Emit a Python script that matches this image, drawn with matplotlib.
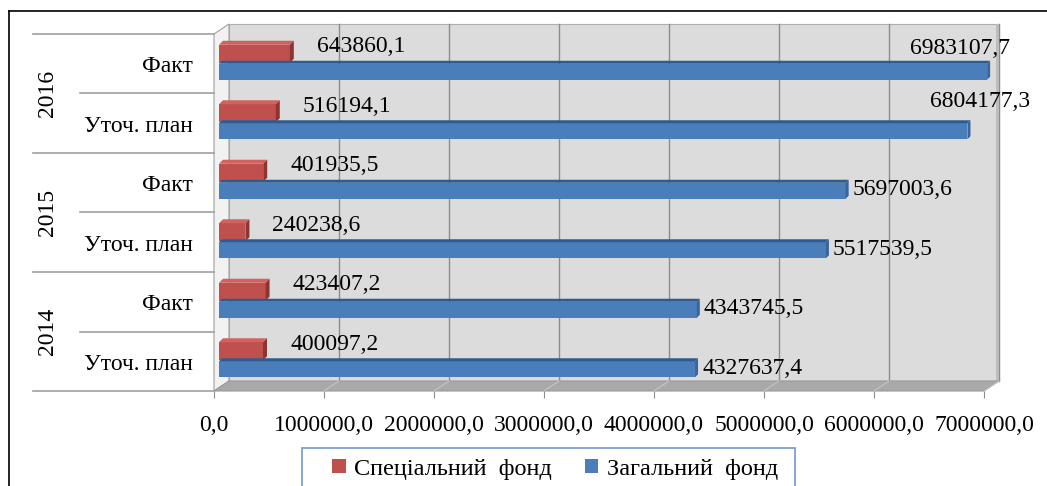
import matplotlib
matplotlib.use("Agg")
import matplotlib.pyplot as plt
from matplotlib.patches import Polygon, Rectangle
from matplotlib.lines import Line2D
from matplotlib.transforms import blended_transform_factory

plt.rcParams["font.family"] = ["Liberation Serif", "DejaVu Serif"]

# data (bottom row first)
years = ["2014", "2015", "2016"]
categories = ["Уточ. план", "Факт", "Уточ. план", "Факт", "Уточ. план", "Факт"]
special_fund = [400097.2, 423407.2, 240238.6, 401935.5, 516194.1, 643860.1]
general_fund = [4327637.4, 4343745.5, 5517539.5, 5697003.6, 6804177.3, 6983107.7]
xticks = [0, 1000000, 2000000, 3000000, 4000000, 5000000, 6000000, 7000000]
series_names = ["Спеціальний  фонд", "Загальний  фонд"]

FS = 17
W, H = 1047, 486
fig = plt.figure(figsize=(W / 100, H / 100), dpi=100)

# axes placed in pixels: x 0..7e6 -> 214..984, rows -> 391..34 (from top)
AX_L, AX_R, AX_T, AX_B = 214, 984, 34, 391
ax = fig.add_axes([AX_L / W, (H - AX_B) / H, (AX_R - AX_L) / W, (AX_B - AX_T) / H])
ax.set_xlim(0, 7000000)
ax.set_ylim(-0.5, 5.5)
ax.set_facecolor("none")
for s in ax.spines.values():
    s.set_visible(False)

PX_X = 7000000 / (AX_R - AX_L)   # data units per pixel
PX_Y = 6 / (AX_B - AX_T)


def dx(p):
    return p * PX_X


def dy(p):
    return p * PX_Y


# 3D box: walls and floor
wx, wy = dx(15), dy(10)
ymin, ymax = -0.5, 5.5
xmax = 7000000
back = Rectangle((wx, ymin + wy), xmax, ymax - ymin, facecolor="#dcdcdc",
                 edgecolor="#b0b0b0", lw=0.8, zorder=0, clip_on=False)
ax.add_patch(back)
left_wall = Polygon([(0, ymin), (wx, ymin + wy), (wx, ymax + wy), (0, ymax)],
                    closed=True, facecolor="#f2f2f2", edgecolor="#a0a0a0", lw=0.8,
                    zorder=0.5, clip_on=False)
ax.add_patch(left_wall)
floor = Polygon([(0, ymin), (xmax, ymin), (xmax + wx, ymin + wy), (wx, ymin + wy)],
                closed=True, facecolor="#a9a9a9", edgecolor="#9a9a9a", lw=0.8,
                zorder=0.6, clip_on=False)
ax.add_patch(floor)
side = Rectangle((xmax + wx - dx(3), ymin + wy), dx(3), ymax - ymin,
                 facecolor="#bdbdbd", edgecolor="none", zorder=0.4, clip_on=False)
ax.add_patch(side)

for t in xticks[1:]:
    ax.plot([t + wx, t + wx], [ymin + wy, ymax + wy], color="#8c8c8c", lw=1.0,
            zorder=0.3, clip_on=False)
    ax.plot([t, t + wx], [ymin, ymin + wy], color="#c4c4c4", lw=0.8,
            zorder=0.7, clip_on=False)

# bars as simple 3D boxes
bx = dx(5)            # bars sit at half depth


def box(x0, x1, y0, y1, depth, front, top, right):
    ddx, ddy = dx(depth), dy(depth)
    ax.add_patch(Rectangle((x0, y0), x1 - x0, y1 - y0, facecolor=front,
                           edgecolor="none", zorder=2, clip_on=False))
    ax.add_patch(Polygon([(x0, y1), (x1, y1), (x1 + ddx, y1 + ddy), (x0 + ddx, y1 + ddy)],
                         closed=True, facecolor=top, edgecolor="none", zorder=2, clip_on=False))
    ax.add_patch(Polygon([(x1, y0), (x1 + ddx, y0 + ddy), (x1 + ddx, y1 + ddy), (x1, y1)],
                         closed=True, facecolor=right, edgecolor="none", zorder=2, clip_on=False))


def fmt(v):
    return f"{v:.1f}".replace(".", ",")


for i, (sv, gv) in enumerate(zip(special_fund, general_fund)):
    # red bar (special fund)
    box(bx, bx + sv, i + dy(1), i + dy(19), 4, "#c0504d", "#d2625e", "#8e3532")
    # blue bar (general fund), drawn in front
    box(bx, bx + gv, i - dy(16), i + dy(0), 3, "#4a7ebb", "#2f5b8e", "#3a6597")

    ax.text(bx + sv + dx(27), i + dy(17), fmt(sv), fontsize=FS,
            ha="left", va="center", zorder=3, clip_on=False)
    if gv > 6500000:
        # labels that would run off the chart go above the bar end
        nudge = {4: (13, 29), 5: (-27, 22)}[i]
        ax.text(bx + gv + dx(nudge[0]), i - dy(7) + dy(nudge[1]), fmt(gv),
                fontsize=FS, ha="center", va="center", zorder=3, clip_on=False)
    else:
        ax.text(bx + gv + dx(7), i - dy(7), fmt(gv), fontsize=FS,
                ha="left", va="center", zorder=3, clip_on=False)

# x axis
ax.set_xticks(xticks)
ax.set_xticklabels([fmt(t) for t in xticks])
ax.tick_params(axis="x", length=5, color="#8c8c8c", pad=12, labelsize=FS)
ax.set_yticks([])

# category labels on the left
tr = blended_transform_factory(ax.transAxes, ax.transData)


def axfrac(p):
    return (p - AX_L) / (AX_R - AX_L)


for i, cat in enumerate(categories):
    ax.text(axfrac(193), i + dy(-3), cat, transform=tr, fontsize=FS,
            ha="right", va="center", clip_on=False)
for k in range(7):
    y = k - 0.5
    x0 = axfrac(33) if k % 2 == 0 else axfrac(80)
    ax.add_line(Line2D([x0, 0], [y, y], transform=tr, color="#a0a0a0", lw=1.2,
                       clip_on=False))
for j, yr in enumerate(years):
    ax.text(axfrac(47), 2 * j + 0.5, yr, transform=tr, rotation=90, fontsize=FS,
            ha="center", va="center", clip_on=False)

# outer border (top and left)
fig.add_artist(Line2D([9 / W, 1], [1 - 11 / H, 1 - 11 / H], transform=fig.transFigure,
                      color="black", lw=1.2))
fig.add_artist(Line2D([9 / W, 9 / W], [0, 1 - 11 / H], transform=fig.transFigure,
                      color="black", lw=1.2))

# legend, with its frame drawn as a box like the original
fig.add_artist(Rectangle((302 / W, -0.02), (795 - 302) / W, 0.02 + (H - 448) / H,
                         transform=fig.transFigure, facecolor="white",
                         edgecolor="#7f9fcf", lw=1.3))
handles = [Rectangle((0, 0), 1, 1, facecolor="#c0504d"),
           Rectangle((0, 0), 1, 1, facecolor="#4a7ebb")]
leg = fig.legend(handles, series_names, loc="center", ncol=2,
                 bbox_to_anchor=(555 / W, 1 - 469 / H), fontsize=17.5, frameon=False,
                 handlelength=0.55, handleheight=0.55, handletextpad=0.35,
                 columnspacing=1.35, borderpad=0.2)

fig.savefig("out.png", dpi=100)
